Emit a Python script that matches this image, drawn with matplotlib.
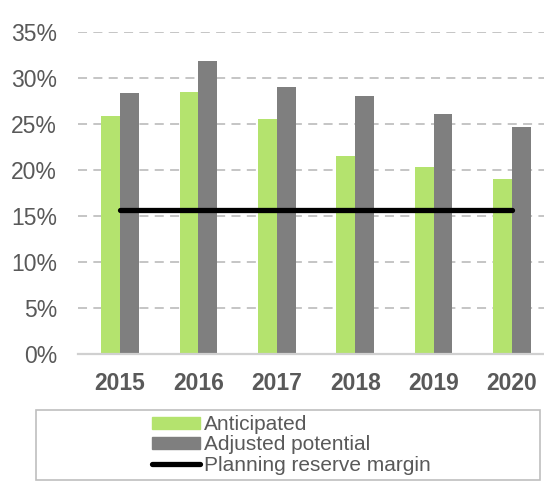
import numpy as np
import matplotlib.pyplot as plt
from matplotlib.patches import Rectangle
from matplotlib.lines import Line2D
from matplotlib.patches import Patch

years = ["2015", "2016", "2017", "2018", "2019", "2020"]
anticipated = [25.9, 28.5, 25.5, 21.5, 20.3, 19.0]
adjusted = [28.4, 31.9, 29.0, 28.0, 26.1, 24.7]
reserve_margin = [15.7, 15.7, 15.7, 15.7, 15.7, 15.7]
yticks = [0, 5, 10, 15, 20, 25, 30, 35]

plt.rcParams["font.family"] = ["Liberation Sans", "DejaVu Sans"]
txt = "#595959"

fig = plt.figure(figsize=(5.44, 4.83), dpi=100)
ax = fig.add_axes([78 / 544, 129 / 483, 466 / 544, 322 / 483])

x = np.arange(len(years))
w = 0.24
ax.bar(x - w / 2, anticipated, w, color="#B4E36E", zorder=3)
ax.bar(x + w / 2, adjusted, w, color="#7F7F7F", zorder=3)
ax.plot(x, reserve_margin, color="black", lw=3.8, solid_capstyle="round", zorder=4)

ax.set_xlim(-0.536, 5.408)
ax.set_ylim(0, 35)
ax.set_yticks(yticks)
ax.set_yticklabels([f"{v}%" for v in yticks])
ax.set_xticks(x)
ax.set_xticklabels(years, fontweight="bold")
ax.tick_params(axis="y", length=0, pad=15, labelsize=16.5, labelcolor=txt)
ax.tick_params(axis="x", length=0, pad=13, labelsize=16.5, labelcolor=txt)
ax.yaxis.grid(True, color="#C0C0C0", lw=1.3, ls=(0, (5, 3.5)), zorder=0)
for s in ["top", "right", "left"]:
    ax.spines[s].set_visible(False)
ax.spines["bottom"].set_color("#D0D0D0")
ax.spines["bottom"].set_linewidth(1.6)
ax.spines["bottom"].set_zorder(5)

fig.patches.append(Rectangle((36 / 544, 3 / 483), 504 / 544, 70 / 483,
                             transform=fig.transFigure, fill=False,
                             edgecolor="#BFBFBF", lw=1.2))
handles = [Patch(color="#B4E36E"), Patch(color="#7F7F7F"),
           Line2D([], [], color="black", lw=3.8, solid_capstyle="round")]
labels = ["Anticipated", "Adjusted potential", "Planning reserve margin"]
fig.legend(handles, labels, loc="center", bbox_to_anchor=(291 / 544, 38 / 483),
           frameon=False, fontsize=15, labelcolor=txt, handlelength=2.3,
           handleheight=0.5, handletextpad=0.2, labelspacing=0.07,
           borderpad=0)

fig.savefig("out.png", dpi=100)
